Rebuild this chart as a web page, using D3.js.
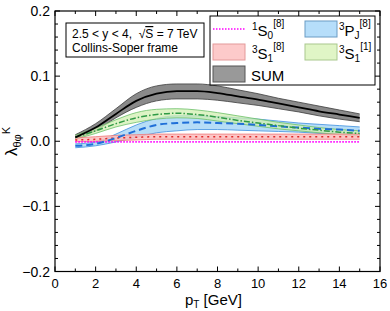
<!DOCTYPE html>
<html>
<head>
<meta charset="utf-8">
<script src="https://cdn.jsdelivr.net/npm/d3@7"></script>
<style>
  body { margin: 0; background: #fff; }
  svg { font-family: Arial, "Liberation Sans", sans-serif; }
</style>
</head>
<body>
<svg id="chart" width="390" height="311"></svg>
<script>
// pT grid
let PT = [1, 2, 3, 4, 5, 6, 7, 8, 9, 10, 11, 12, 13, 14, 15];

// SUM
let sumMid = [0.006, 0.021, 0.042, 0.062, 0.073, 0.077, 0.077, 0.074, 0.069, 0.064, 0.058, 0.052, 0.046, 0.041, 0.036];
let sumHi  = [0.010, 0.027, 0.050, 0.073, 0.085, 0.088, 0.088, 0.085, 0.079, 0.073, 0.066, 0.060, 0.054, 0.048, 0.042];
let sumLo  = [0.003, 0.016, 0.036, 0.052, 0.062, 0.065, 0.065, 0.063, 0.059, 0.055, 0.050, 0.045, 0.039, 0.034, 0.030];

// 3S1[1]
let s1Mid = [0.006, 0.016, 0.027, 0.036, 0.041, 0.043, 0.041, 0.037, 0.032, 0.028, 0.024, 0.020, 0.017, 0.014, 0.012];
let s1Hi  = [0.009, 0.020, 0.033, 0.044, 0.049, 0.050, 0.048, 0.044, 0.039, 0.034, 0.029, 0.025, 0.021, 0.018, 0.016];
let s1Lo  = [0.003, 0.012, 0.022, 0.029, 0.034, 0.036, 0.035, 0.031, 0.027, 0.023, 0.019, 0.016, 0.013, 0.010, 0.008];

// 3PJ[8]
let pjMid = [-0.007, -0.004, 0.005, 0.016, 0.025, 0.028, 0.029, 0.028, 0.027, 0.025, 0.023, 0.021, 0.019, 0.018, 0.016];
let pjHi  = [-0.004, -0.001, 0.011, 0.025, 0.035, 0.039, 0.039, 0.038, 0.036, 0.034, 0.031, 0.028, 0.026, 0.024, 0.022];
let pjLo  = [-0.010, -0.007, -0.001, 0.006, 0.013, 0.016, 0.018, 0.018, 0.017, 0.016, 0.015, 0.014, 0.012, 0.011, 0.010];

// 3S1[8]
let s8Mid = [0.002, 0.003, 0.005, 0.006, 0.007, 0.007, 0.007, 0.007, 0.007, 0.007, 0.007, 0.007, 0.007, 0.007, 0.007];
let s8Hi  = [0.005, 0.007, 0.009, 0.010, 0.011, 0.011, 0.011, 0.011, 0.011, 0.011, 0.011, 0.011, 0.011, 0.011, 0.011];
let s8Lo  = [-0.001, 0.000, 0.001, 0.002, 0.003, 0.003, 0.003, 0.003, 0.003, 0.003, 0.003, 0.003, 0.003, 0.003, 0.003];

// 1S0[8]
let s0Mid = [-0.001, -0.001, -0.001, -0.001, -0.001, -0.001, -0.001, -0.001, -0.001, -0.001, -0.001, -0.001, -0.001, -0.001, -0.001];

let xTicks = [0, 2, 4, 6, 8, 10, 12, 14, 16];
let yTicks = [-0.2, -0.1, 0.0, 0.1, 0.2];

const svg = d3.select("#chart");
const pLeft = 55, pRight = 380, pTop = 11, pBottom = 271.5;

let x = d3.scaleLinear().domain([0, 16]).range([pLeft, pRight]);
let y = d3.scaleLinear().domain([-0.2, 0.2]).range([pBottom, pTop]);

function band(hi, lo) {
    return d3.area()
        .x((d, i) => x(PT[i]))
        .y0((d, i) => y(lo[i]))
        .y1((d, i) => y(hi[i]))
        .curve(d3.curveMonotoneX)(hi);
}
function line(vals) {
    return d3.line()
        .x((d, i) => x(PT[i]))
        .y(d => y(d))
        .curve(d3.curveMonotoneX)(vals);
}
function edge(vals, color) {
    svg.append("path").attr("d", line(vals))
        .attr("fill", "none").attr("stroke", color).attr("stroke-width", 0.8);
}

// bands
svg.append("path").attr("d", band(sumHi, sumLo)).attr("fill", "#8a8a8a");
edge(sumHi, "#3c3c3c"); edge(sumLo, "#3c3c3c");

svg.append("path").attr("d", band(pjHi, pjLo)).attr("fill", "#a9d7f6").attr("opacity", 0.85);
edge(pjHi, "#3d8fe0"); edge(pjLo, "#3d8fe0");

svg.append("path").attr("d", band(s1Hi, s1Lo)).attr("fill", "#d2efb2").attr("opacity", 0.75);
edge(s1Hi, "#6cc06a"); edge(s1Lo, "#6cc06a");

svg.append("path").attr("d", band(s8Hi, s8Lo)).attr("fill", "#fbbcbc").attr("opacity", 0.85);
edge(s8Hi, "#f07878"); edge(s8Lo, "#f07878");

// central lines
svg.append("path").attr("d", line(s0Mid)).attr("fill", "none")
    .attr("stroke", "#ff00ff").attr("stroke-width", 1.6).attr("stroke-dasharray", "1.5,1.5");
svg.append("path").attr("d", line(s8Mid)).attr("fill", "none")
    .attr("stroke", "#e02828").attr("stroke-width", 1.5).attr("stroke-dasharray", "2,4");
svg.append("path").attr("d", line(pjMid)).attr("fill", "none")
    .attr("stroke", "#1f6fd8").attr("stroke-width", 2).attr("stroke-dasharray", "7,4");
svg.append("path").attr("d", line(s1Mid)).attr("fill", "none")
    .attr("stroke", "#2f9a45").attr("stroke-width", 1.5).attr("stroke-dasharray", "6,2,1.5,2");
svg.append("path").attr("d", line(sumMid)).attr("fill", "none")
    .attr("stroke", "#000").attr("stroke-width", 1.8);

// frame
svg.append("rect").attr("x", pLeft).attr("y", pTop)
    .attr("width", pRight - pLeft).attr("height", pBottom - pTop)
    .attr("fill", "none").attr("stroke", "#000").attr("stroke-width", 1.2);

// ticks (inward, all four sides)
let xMinor = d3.range(0, 17, 1);
let yMinor = d3.range(-0.2, 0.2001, 0.02);
xMinor.forEach(v => {
    let len = (v % 2 === 0) ? 5 : 3;
    svg.append("line").attr("x1", x(v)).attr("x2", x(v)).attr("y1", pBottom).attr("y2", pBottom - len).attr("stroke", "#000");
    svg.append("line").attr("x1", x(v)).attr("x2", x(v)).attr("y1", pTop).attr("y2", pTop + len).attr("stroke", "#000");
});
yMinor.forEach((v, i) => {
    let len = (i % 5 === 0) ? 5 : 3;
    svg.append("line").attr("y1", y(v)).attr("y2", y(v)).attr("x1", pLeft).attr("x2", pLeft + len).attr("stroke", "#000");
    svg.append("line").attr("y1", y(v)).attr("y2", y(v)).attr("x1", pRight).attr("x2", pRight - len).attr("stroke", "#000");
});

// tick labels
xTicks.forEach(v => {
    svg.append("text").attr("x", x(v)).attr("y", 288).attr("text-anchor", "middle")
        .attr("font-size", 13).text(v);
});
yTicks.forEach(v => {
    svg.append("text").attr("x", pLeft - 5).attr("y", y(v) + 5).attr("text-anchor", "end")
        .attr("font-size", 14).text(d3.format(".1f")(v));
});

// axis titles
let xt = svg.append("text").attr("x", 185).attr("y", 305).attr("font-size", 15);
xt.append("tspan").text("p");
xt.append("tspan").attr("font-size", 10).attr("dy", 3).text("T");
xt.append("tspan").attr("dy", -3).text(" [GeV]");

let yt = svg.append("text").attr("transform", "translate(17,156) rotate(-90)").attr("font-size", 17);
yt.append("tspan").text("λ");
yt.append("tspan").attr("font-size", 11).attr("dy", 4).text("θφ");
yt.append("tspan").attr("font-size", 11).attr("dy", -11).text("K");

// info box
svg.append("rect").attr("x", 66).attr("y", 23).attr("width", 138).attr("height", 34)
    .attr("fill", "#fff").attr("stroke", "#000").attr("stroke-width", 1);
let t1 = svg.append("text").attr("x", 72).attr("y", 38).attr("font-size", 12);
t1.append("tspan").text("2.5 < y < 4,\u00a0\u00a0√");
t1.append("tspan").attr("text-decoration", "overline").text("S");
t1.append("tspan").text(" = 7 TeV");
svg.append("text").attr("x", 72).attr("y", 52).attr("font-size", 12).text("Collins-Soper frame");

// legend
let legendNames = ["1S0[8]", "3PJ[8]", "3S1[8]", "3S1[1]", "SUM"];
svg.append("rect").attr("x", 210).attr("y", 16).attr("width", 165).attr("height", 69)
    .attr("fill", "#fff").attr("stroke", "#000").attr("stroke-width", 1);

function label(xx, yy, sup1, base, sub, sup2) {
    let t = svg.append("text").attr("x", xx).attr("y", yy).attr("font-size", 15);
    t.append("tspan").attr("font-size", 10).attr("dy", -6).text(sup1);
    t.append("tspan").attr("dy", 6).text(base);
    t.append("tspan").attr("font-size", 10).attr("dy", 3).text(sub);
    t.append("tspan").attr("font-size", 10).attr("dy", -12).text(sup2);
}
function swatch(xx, yy, fill, stroke) {
    svg.append("rect").attr("x", xx).attr("y", yy).attr("width", 32).attr("height", 16)
        .attr("fill", fill).attr("stroke", stroke).attr("stroke-width", 1);
}

svg.append("line").attr("x1", 213).attr("x2", 245).attr("y1", 29).attr("y2", 29)
    .attr("stroke", "#ff00ff").attr("stroke-width", 1.6).attr("stroke-dasharray", "1.5,1.5");
label(252, 36, "1", "S", "0", "[8]");
swatch(305, 21, "#b6defa", "#6a9cc4");
label(339, 36, "3", "P", "J", "[8]");
swatch(213, 44, "#fdcaca", "#e39a9a");
label(252, 59, "3", "S", "1", "[8]");
swatch(305, 44, "#e0f5c6", "#a9c88e");
label(339, 59, "3", "S", "1", "[1]");
swatch(213, 66, "#999999", "#555555");
svg.append("text").attr("x", 251).attr("y", 81).attr("font-size", 15).text(legendNames[4]);
</script>
</body>
</html>
